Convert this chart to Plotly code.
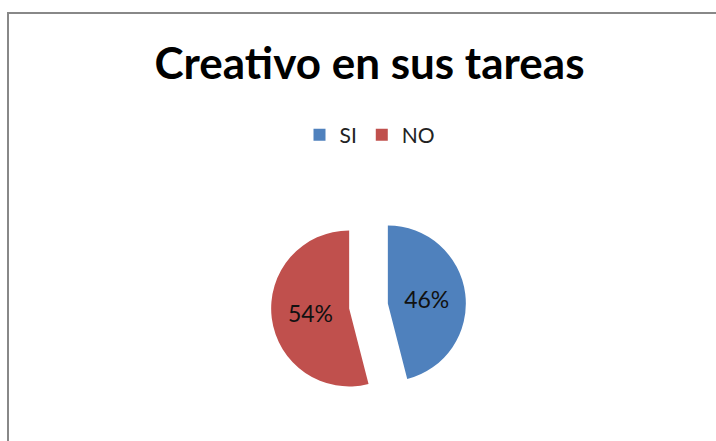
import plotly.graph_objects as go

labels = ["SI", "NO"]
values = [46, 54]
colors = ["#4F81BD", "#C0504D"]

W, H = 716, 441
cx, cy = 368.5, 306
half = 97.5

fig = go.Figure(go.Pie(
    labels=labels,
    values=values,
    marker=dict(colors=colors, line=dict(width=0)),
    sort=False,
    direction="clockwise",
    rotation=0,
    pull=[0.25, 0.25],
    textinfo="percent",
    texttemplate="%{percent:.0%}",
    textposition="inside",
    insidetextorientation="horizontal",
    textfont=dict(family="Lato", size=23, color="#111111"),
    domain=dict(x=[(cx - half) / W, (cx + half) / W],
                y=[(H - cy - half) / H, (H - cy + half) / H]),
    hoverinfo="label+percent",
))

fig.update_layout(
    width=W, height=H,
    margin=dict(l=0, r=0, t=0, b=0),
    paper_bgcolor="white",
    plot_bgcolor="white",
    title=dict(text="<b>Creativo en sus tareas</b>",
               font=dict(family="Lato", size=44, color="black"),
               x=369.5 / W, xanchor="center",
               y=1 - 64 / H, yanchor="middle", yref="paper"),
    legend=dict(orientation="h", x=370 / W, xanchor="center",
                y=1 - 135 / H, yanchor="middle",
                font=dict(family="Lato", size=21, color="#222222"),
                itemwidth=30, traceorder="normal"),
    shapes=[dict(type="rect", xref="paper", yref="paper",
                 x0=8 / W, x1=1.05, y0=-0.05, y1=1 - 13 / H,
                 line=dict(color="#888888", width=2), fillcolor="rgba(0,0,0,0)")],
)

fig.write_html("out.html", config={"displayModeBar": False},
               post_script="document.body.style.margin='0px';")
